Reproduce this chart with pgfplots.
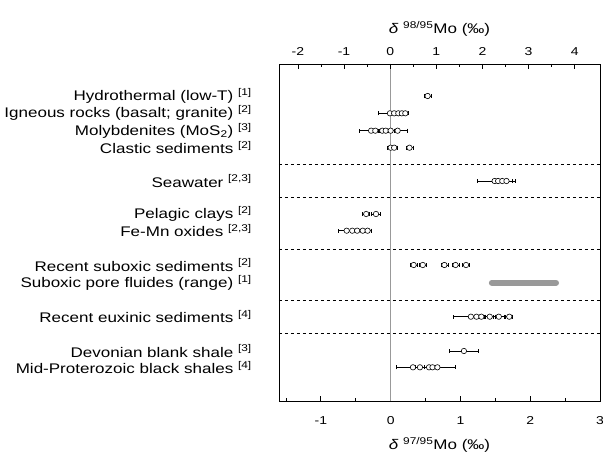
\documentclass[border=0pt]{standalone}
\usepackage{fontspec}
\setmainfont{Liberation Sans}[FakeStretch=1.22]
\usepackage{pgfplots}
\usepackage{pgfplotstable}
\pgfplotsset{compat=1.18}
\definecolor{zerogray}{gray}{0.6}
\pgfplotstableread{
x y e
0.53 96 0.05
-0.01 113.3 0.17
0.05 113.3 0.06
0.11 113.3 0.06
0.16 113.3 0.06
0.21 113.3 0.05
-0.28 130.7 0.17
-0.22 130.7 0.06
-0.12 130.7 0.06
-0.07 130.7 0.06
0.00 130.7 0.06
0.10 130.7 0.14
0.00 147.7 0.05
0.05 147.7 0.05
0.27 147.7 0.05
1.49 181 0.25
1.54 181 0.08
1.60 181 0.06
1.66 181 0.12
-0.35 214 0.05
-0.21 214 0.06
-0.63 230.7 0.12
-0.55 230.7 0.06
-0.48 230.7 0.06
-0.40 230.7 0.06
-0.33 230.7 0.05
0.33 265 0.05
0.46 265 0.05
0.77 265 0.05
0.93 265 0.05
1.08 265 0.05
1.15 316.7 0.25
1.23 316.7 0.06
1.30 316.7 0.06
1.42 316.7 0.08
1.55 316.7 0.08
1.70 316.7 0.05
1.05 351 0.21
0.32 367.3 0.24
0.42 367.3 0.06
0.55 367.3 0.06
0.60 367.3 0.08
0.67 367.3 0.25
}\datatable
\begin{document}
\begin{tikzpicture}
\path[use as bounding box] (-279bp,-51bp) rectangle (324bp,401bp);
\begin{axis}[
  at={(0,0)}, anchor=south west,
  scale only axis, width=321bp, height=337bp,
  xmin=-1.6, xmax=3, ymin=64, ymax=401, y dir=reverse,
  axis line style={line width=0.8bp},
  tick align=inside,
  xtick pos=left,
  xtick={-1,0,1,2,3}, xticklabels={-1,0,1,2,3},
  minor xtick={-1.5,-0.5,0.5,1.5,2.5},
  major tick length=5bp, minor tick length=3bp,
  every tick/.style={black, line width=0.8bp},
  xticklabel style={font=\fontsize{11.5}{13}\selectfont, yshift=-12bp},
  xlabel={\textit{δ} \textsuperscript{97/95}Mo (‰)},
  xlabel style={font=\fontsize{14}{16}\selectfont, yshift=-6bp},
  ytick={96,113.3,130.7,147.7,181,214,230.7,265,282.7,316.7,351,367.3},
  ytick pos=left,
  ytick style={draw=none},
  yticklabel style={font=\fontsize{14}{16}\selectfont, anchor=east, inner sep=0pt, xshift=-27bp},
  yticklabels={
    {Hydrothermal (low-T) \textsuperscript{[1]}},
    {Igneous rocks (basalt; granite) \textsuperscript{[2]}},
    {Molybdenites (MoS\textsubscript{2}) \textsuperscript{[3]}},
    {Clastic sediments \textsuperscript{[2]}},
    {Seawater \textsuperscript{[2,3]}},
    {Pelagic clays \textsuperscript{[2]}},
    {Fe-Mn oxides \textsuperscript{[2,3]}},
    {Recent suboxic sediments \textsuperscript{[2]}},
    {Suboxic pore fluides (range) \textsuperscript{[1]}},
    {Recent euxinic sediments \textsuperscript{[4]}},
    {Devonian blank shale \textsuperscript{[3]}},
    {Mid-Proterozoic black shales \textsuperscript{[4]}}},
  clip=false,
]
\addplot[zerogray, line width=1.4bp] coordinates {(0,64) (0,401)};
\foreach \yy in {164,197,249,300,333}{
  \addplot[black, line width=0.8bp, dash pattern=on 3.5bp off 2.5bp] coordinates {(-1.6,\yy) (3,\yy)};
}
\addplot[zerogray, line width=6bp, line cap=round] coordinates {(1.45,282.7) (2.37,282.7)};
\addplot[only marks, mark=*, mark size=2.7bp,
  mark options={fill=white, draw=black, line width=0.6bp},
  error bars/.cd, x dir=both, x explicit,
  error mark=|,
  error bar style={black, line width=0.7bp},
  error mark options={black, line width=0.7bp, mark size=2bp}]
  table[x=x, y=y, x error=e] {\datatable};
\end{axis}
\begin{axis}[
  at={(0,0)}, anchor=south west,
  scale only axis, width=321bp, height=337bp,
  xmin=-2.41, xmax=4.55, ymin=0, ymax=1,
  axis x line*=top, axis y line=none,
  axis line style={line width=0.8bp},
  tick align=inside,
  xtick={-2,-1,0,1,2,3,4}, xticklabels={-2,-1,0,1,2,3,4},
  minor xtick={-1.5,-0.5,0.5,1.5,2.5,3.5},
  major tick length=5bp, minor tick length=3bp,
  every tick/.style={black, line width=0.8bp},
  xticklabel style={font=\fontsize{11.5}{13}\selectfont, yshift=5bp},
  xlabel={\textit{δ} \textsuperscript{98/95}Mo (‰)},
  xlabel style={font=\fontsize{14}{16}\selectfont, yshift=4bp},
]
\end{axis}
\end{tikzpicture}
\end{document}
